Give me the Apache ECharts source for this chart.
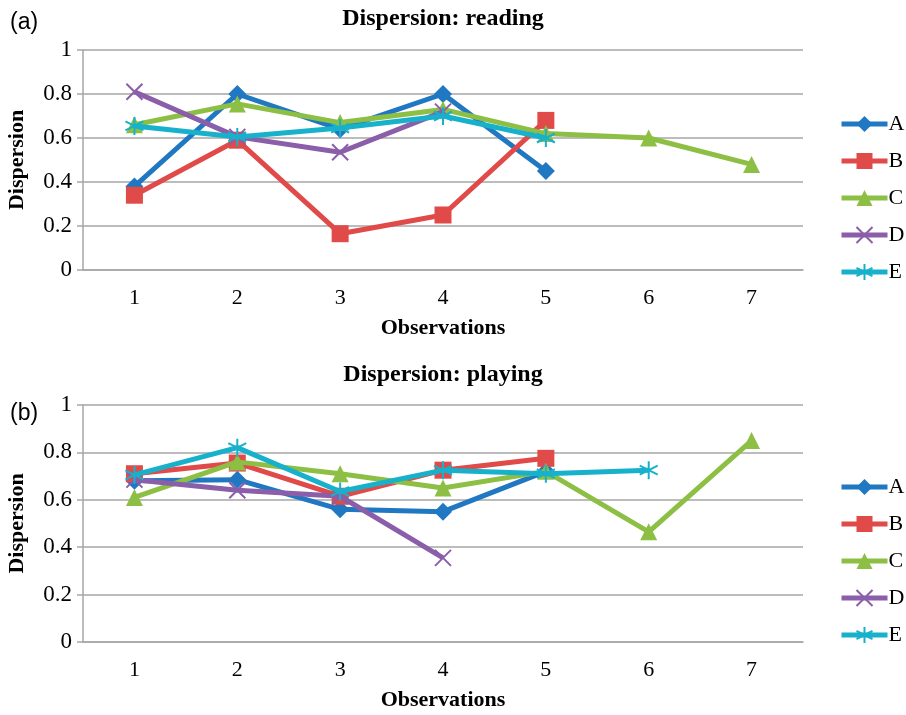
<!DOCTYPE html>
<html><head><meta charset="utf-8">
<script src="https://cdn.jsdelivr.net/npm/echarts@6/dist/echarts.min.js"></script>
<style>html,body{margin:0;padding:0;background:#fff}#c{width:906px;height:715px}</style>
</head><body><div id="c"></div>
<script>
const categories = ['1','2','3','4','5','6','7'];
const seriesNames = ['A','B','C','D','E'];
// Reading
const readA = [0.38, 0.80, 0.64, 0.80, 0.45];
const readB = [0.34, 0.59, 0.165, 0.25, 0.68];
const readC = [0.66, 0.755, 0.67, 0.73, 0.62, 0.60, 0.48];
const readD = [0.81, 0.605, 0.535, 0.72];
const readE = [0.655, 0.605, 0.645, 0.70, 0.60];
// Playing
const playA = [0.68, 0.685, 0.56, 0.55, 0.72];
const playB = [0.71, 0.755, 0.615, 0.725, 0.775];
const playC = [0.61, 0.76, 0.71, 0.65, 0.72, 0.465, 0.85];
const playD = [0.685, 0.64, 0.615, 0.355];
const playE = [0.705, 0.82, 0.635, 0.725, 0.71, 0.725];

const colors = ['#1f78c1','#e04a48','#8cbf44','#8a5ea8','#17b1cc'];
const symbols = ['diamond','rect','triangle',
  'path://M0,0L10,10M10,0L0,10',
  'path://M5,0L5,10M0.7,2.5L9.3,7.5M0.7,7.5L9.3,2.5'];
const symSizes = [18, 17, 17, 16, 18];

const serif = 'Liberation Serif';
const gridColor = '#a6a6a6';

function mkSeries(data, idx){
  return data.map((d,i)=>({
    name: seriesNames[i], type:'line', xAxisIndex: idx, yAxisIndex: idx,
    data: d, symbol: symbols[i], symbolSize: symSizes[i], showSymbol:true,
    lineStyle:{color: colors[i], width:5},
    itemStyle:{color: colors[i], borderColor: colors[i], borderWidth: i>=3 ? 2 : 0},
    z: 2+i
  }));
}
function mkX(idx){
  return {gridIndex: idx, type:'category', data: categories, boundaryGap:true,
    axisLine:{lineStyle:{color:gridColor, width:1.5}}, axisTick:{show:false},
    axisLabel:{color:'#000', fontFamily:serif, fontSize:22, margin:17},
    name:'Observations', nameLocation:'middle', nameGap:47,
    nameTextStyle:{fontFamily:serif, fontWeight:'bold', fontSize:22, color:'#000'}};
}
function mkY(idx){
  return {gridIndex: idx, type:'value', min:0, max:1, interval:0.2,
    axisLine:{show:true, lineStyle:{color:gridColor, width:1.5}},
    axisTick:{show:true, length:6, lineStyle:{color:gridColor, width:1.5}},
    splitLine:{lineStyle:{color:gridColor, width:1.5}},
    axisLabel:{color:'#000', fontFamily:serif, fontSize:23, margin:11,
      formatter: v => (v===0?'0':v===1?'1':String(Math.round(v*10)/10))},
    name:'Dispersion', nameLocation:'middle', nameGap:55,
    nameTextStyle:{fontFamily:serif, fontWeight:'bold', fontSize:22, color:'#000'}};
}
function mkLegend(top){
  return {orient:'vertical', left:834, top: top, itemWidth:46, itemHeight:20, itemGap:15,
    lineStyle:{width:5},
    data: seriesNames, textStyle:{fontFamily:serif, fontSize:22, color:'#000', padding:[0,0,0,-4]}};
}
const chart = echarts.init(document.getElementById('c'), null, {renderer:'canvas'});
chart.setOption({
  animation:false,
  color: colors,
  title:[
    {text:'Dispersion: reading', left:438, top:2, textAlign:'center',
      textStyle:{fontFamily:serif, fontWeight:'bold', fontSize:24, color:'#000'}},
    {text:'Dispersion: playing', left:438, top:358, textAlign:'center',
      textStyle:{fontFamily:serif, fontWeight:'bold', fontSize:24, color:'#000'}},
    {text:'(a)', left:5, top:6, textStyle:{fontFamily:'Liberation Sans', fontWeight:'normal', fontSize:23, color:'#000'}},
    {text:'(b)', left:5, top:397, textStyle:{fontFamily:'Liberation Sans', fontWeight:'normal', fontSize:23, color:'#000'}}
  ],
  legend:[mkLegend(108), mkLegend(471)],
  grid:[
    {left:83, top:50, width:720, height:220, outerBoundsMode:'none', containLabel:false},
    {left:83, top:405, width:720, height:237, outerBoundsMode:'none', containLabel:false}
  ],
  xAxis:[mkX(0), mkX(1)],
  yAxis:[mkY(0), mkY(1)],
  series:[...mkSeries([readA,readB,readC,readD,readE],0), ...mkSeries([playA,playB,playC,playD,playE],1)]
});
</script></body></html>
